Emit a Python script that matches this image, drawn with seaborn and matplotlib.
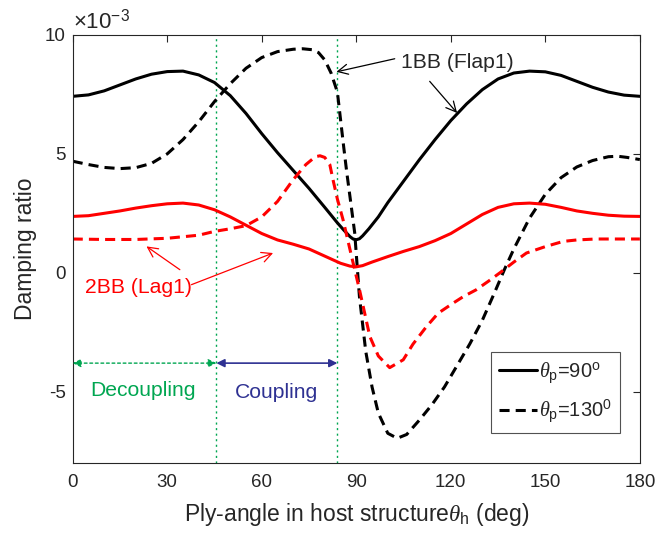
import numpy as np
import pandas as pd
import matplotlib
matplotlib.use("Agg")
import matplotlib.pyplot as plt
import seaborn as sns

# ---- data (damping ratio in units of 1e-3) ----
bb1_p90_x = [0, 5, 10, 15, 20, 25, 30, 35, 40, 45, 50, 55, 60, 65, 70, 75, 80, 84, 86, 88, 89, 90,
             91, 92, 94, 97, 100, 105, 110, 115, 120, 125, 130, 135, 140, 145, 150, 155, 160, 165, 170, 175, 180]
bb1_p90_y = [7.42, 7.48, 7.65, 7.9, 8.15, 8.35, 8.46, 8.48, 8.32, 8.0, 7.45, 6.7, 5.85, 5.05, 4.3, 3.55, 2.75, 2.1, 1.8, 1.52, 1.42, 1.39,
             1.43, 1.55, 1.85, 2.35, 2.95, 3.85, 4.75, 5.6, 6.4, 7.1, 7.7, 8.15, 8.4, 8.48, 8.45, 8.3, 8.05, 7.8, 7.6, 7.47, 7.42]

bb1_p130_x = [0, 5, 10, 15, 20, 25, 30, 35, 40, 45, 50, 55, 60, 65, 70, 73, 76, 78, 80, 82, 84, 86, 87, 88, 89.5,
              91, 93, 95, 97, 100, 103, 106, 110, 114, 118, 122, 126, 130, 134, 137, 140, 145, 150, 155, 160, 165, 170, 173, 176, 180]
bb1_p130_y = [4.69, 4.55, 4.43, 4.38, 4.42, 4.6, 5.0, 5.6, 6.35, 7.2, 7.95, 8.6, 9.05, 9.3, 9.4, 9.42, 9.38, 9.26, 8.95, 8.4, 7.6, 5.3, 4.2, 3.2, 1.68,
              -1.0, -3.3, -4.8, -5.9, -6.75, -6.96, -6.8, -6.2, -5.55, -4.8, -3.9, -3.0, -2.0, -0.8, 0.13, 1.0, 2.3, 3.3, 4.0, 4.45, 4.72, 4.88, 4.9, 4.85, 4.76]

bb2_p90_x = [0, 5, 10, 15, 20, 25, 30, 35, 40, 45, 50, 55, 60, 65, 70, 75, 80, 85, 88, 90,
             92, 95, 100, 105, 110, 115, 120, 125, 130, 135, 140, 145, 150, 155, 160, 165, 170, 175, 180]
bb2_p90_y = [2.37, 2.4, 2.5, 2.6, 2.72, 2.82, 2.9, 2.93, 2.85, 2.65, 2.35, 2.0, 1.65, 1.38, 1.2, 1.0, 0.7, 0.4, 0.28, 0.25,
             0.3, 0.45, 0.68, 0.9, 1.1, 1.35, 1.65, 2.05, 2.45, 2.75, 2.9, 2.93, 2.88, 2.75, 2.6, 2.5, 2.42, 2.38, 2.37]

bb2_p130_x = [0, 10, 20, 30, 40, 45, 50, 55, 60, 65, 70, 74, 77, 78.5, 80, 81.6, 82.6, 84, 85.8, 89, 91, 94.3, 97, 100.6,
              104.9, 108, 112.3, 116, 120.7, 124, 128, 132, 135.6, 140, 144, 150, 155.7, 160, 166, 180]
bb2_p130_y = [1.42, 1.4, 1.4, 1.45, 1.58, 1.74, 1.85, 1.98, 2.35, 3.0, 3.92, 4.55, 4.88, 4.92, 4.85, 4.55, 3.92, 3.1, 2.23, 0.41, -0.7, -2.68, -3.5, -3.99,
              -3.66, -3.0, -2.26, -1.7, -1.28, -1.0, -0.72, -0.35, 0.0, 0.45, 0.83, 1.1, 1.32, 1.38, 1.42, 1.42]

x_ticks = [0, 30, 60, 90, 120, 150, 180]
y_ticks = [-5, 0, 5, 10]
region_bounds = [0, 45.6, 84.0]

# ---- style ----
sns.set_style("white")
plt.rcParams["font.family"] = ["Liberation Sans", "DejaVu Sans"]
plt.rcParams["mathtext.fontset"] = "custom"
plt.rcParams["mathtext.rm"] = "Liberation Sans"
plt.rcParams["mathtext.it"] = "Liberation Serif:italic"

fig = plt.figure(figsize=(6.61, 5.38), dpi=100)
ax = fig.add_axes([0.110, 0.1394, 0.858, 0.7956])

ax.axvline(region_bounds[1], color="#00A651", lw=1.0, ls=(0, (1.5, 2.5)), zorder=1)
ax.axvline(region_bounds[2], color="#00A651", lw=1.0, ls=(0, (1.5, 2.5)), zorder=1)

lw = 2.2
dash = (3.3, 2.0)
sns.lineplot(x=bb1_p90_x, y=bb1_p90_y, ax=ax, color="black", lw=lw, label=r"$\theta_\mathrm{p}$=90$^\mathrm{o}$")
sns.lineplot(x=bb1_p130_x, y=bb1_p130_y, ax=ax, color="black", lw=lw,
             label=r"$\theta_\mathrm{p}$=130$^\mathrm{0}$").lines[-1].set_dashes(dash)
sns.lineplot(x=bb2_p90_x, y=bb2_p90_y, ax=ax, color="#FF0000", lw=lw)
sns.lineplot(x=bb2_p130_x, y=bb2_p130_y, ax=ax, color="#FF0000", lw=lw).lines[-1].set_dashes(dash)

ax.set_xlim(0, 180)
ax.set_ylim(-8, 10)
ax.set_xticks(x_ticks)
ax.set_yticks(y_ticks)
ax.set_xticklabels([str(t) for t in x_ticks])
ax.set_yticklabels([str(t) for t in y_ticks])
ax.tick_params(direction="in", length=5, width=0.8, colors="#262626", labelsize=13.5,
               top=True, right=True)
ax.tick_params(axis="y", pad=5)
ax.tick_params(axis="x", pad=8)
for s in ax.spines.values():
    s.set_color("#262626")
    s.set_linewidth(0.8)

ax.set_xlabel(r"Ply-angle in host structure$\theta_\mathrm{h}$ (deg)", fontsize=16.5, color="#262626", labelpad=7)
ax.set_ylabel("Damping ratio", fontsize=16.5, color="#262626", labelpad=6)
ax.text(0.0, 1.003, r"$\times$10$^{-3}$", transform=ax.transAxes, ha="left", va="bottom",
        fontsize=16, color="#262626")

# region arrows
ax.annotate("", xy=(region_bounds[0], -3.8), xytext=(region_bounds[1], -3.8),
            arrowprops=dict(arrowstyle="<|-|>", color="#00A651", lw=1.0, ls=(0, (2, 2)),
                            mutation_scale=12, shrinkA=0, shrinkB=0))
ax.annotate("", xy=(region_bounds[1], -3.8), xytext=(region_bounds[2], -3.8),
            arrowprops=dict(arrowstyle="<|-|>", color="#2E3192", lw=1.2,
                            mutation_scale=12, shrinkA=0, shrinkB=0))
ax.text(22.3, -4.95, "Decoupling", color="#00A651", fontsize=15.2, ha="center", va="center")
ax.text(64.8, -5.05, "Coupling", color="#2E3192", fontsize=15.2, ha="center", va="center")

# mode annotations
ax.text(104.3, 8.84, "1BB (Flap1)", fontsize=15.2, color="#262626", ha="left", va="center")
for s_, e_ in [((102.2, 9.0), (83.7, 8.45)), ((113.3, 8.05), (122.0, 6.72))]:
    ax.annotate("", xy=e_, xytext=s_,
                arrowprops=dict(arrowstyle="->", color="black", lw=0.9, mutation_scale=18,
                                shrinkA=0, shrinkB=0))
ax.text(3.8, -0.63, "2BB (Lag1)", fontsize=15.2, color="#FF0000", ha="left", va="center")
for s_, e_ in [((34.0, 0.13), (23.4, 1.11)), ((37.7, -0.5), (63.6, 0.83))]:
    ax.annotate("", xy=e_, xytext=s_,
                arrowprops=dict(arrowstyle="->", color="#FF0000", lw=0.9, mutation_scale=18,
                                shrinkA=0, shrinkB=0))

leg = ax.legend(loc="lower right", bbox_to_anchor=(0.965, 0.07), fontsize=14.5, frameon=True,
                fancybox=False, edgecolor="#262626", handlelength=1.9, handletextpad=0.1,
                borderpad=0.4, labelspacing=0.6, borderaxespad=0)
leg.get_frame().set_linewidth(0.8)

fig.savefig("out.png", dpi=100)
